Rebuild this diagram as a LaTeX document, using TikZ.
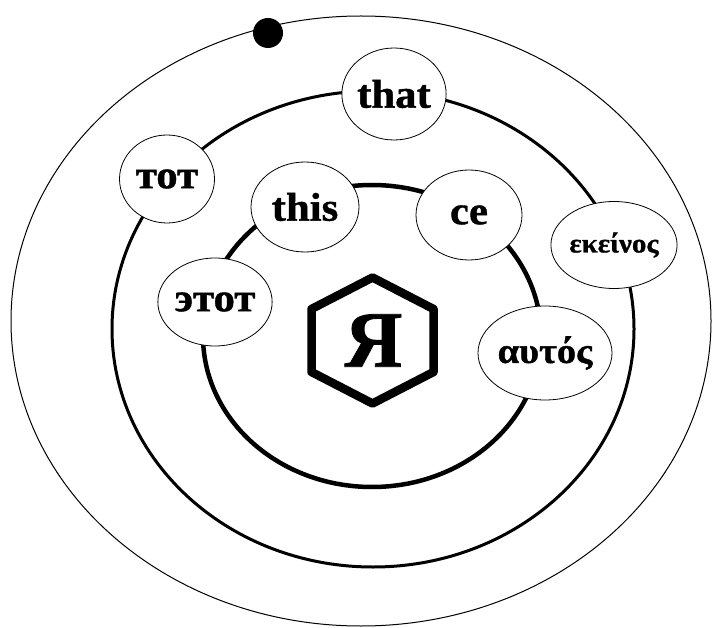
\documentclass[tikz,border=0pt]{standalone}
\usepackage{fontspec}
\setmainfont[FakeStretch=1.07, BoldFeatures={FakeBold=1}]{Liberation Serif}
\newfontfamily\centrefont[BoldFeatures={FakeBold=1}]{Liberation Serif}
\usetikzlibrary{positioning,shapes.geometric,calc}
\tikzset{
    orbit/.style={draw, line width=#1},
    word/.style={
        draw,
        ellipse,
        fill=white,
        line width=0.8pt,
        inner sep=0pt,
        font=\bfseries\fontsize{40}{42}\selectfont
    },
    smallword/.style={
        word,
        font=\bfseries\fontsize{27}{30}\selectfont
    },
    planet/.style={circle, fill=black, inner sep=0pt, minimum size=30pt}
}

\begin{document}
\begin{tikzpicture}[x=1pt, y=-1pt]
        \useasboundingbox (0,0) rectangle (712,628);
        % orbits
        \draw[orbit=1pt] (361,321) ellipse [x radius=350, y radius=305];
        \draw[orbit=3pt] (373,329) ellipse [x radius=261, y radius=238];
        \draw[orbit=4.5pt] (372,336) ellipse [x radius=169, y radius=151];
        \node[planet] (dot) at (268,33) {};

        % words
        \node[word, minimum width=96pt, minimum height=92pt] (that) at (394,94) {that};
        \node[word, minimum width=95pt, minimum height=88pt] (tot) at (167,179) {тот};
        \node[word, minimum width=108pt, minimum height=90pt] (this) at (305,207) {this};
        \node[word, minimum width=106pt, minimum height=90pt] (ce) at (469,215) {ce};
        \node[smallword, minimum width=97pt, minimum height=87pt] (ekeinos) at (614,245) {εκείνος};
        \node[word, minimum width=97pt, minimum height=88pt] (etot) at (215,302) {этот};
        \node[word, font=\bfseries\fontsize{36}{38}\selectfont, minimum width=106pt, minimum height=94pt] (autos) at (545,353) {αυτός};

        % centre
        \coordinate (hex) at (372.5,340.5);
        \draw[line width=8.5pt, line join=round]
            ($(hex)+(0,-63)$) -- ($(hex)+(61,-31.5)$) -- ($(hex)+(61,31.5)$) --
            ($(hex)+(0,63)$) -- ($(hex)+(-61,31.5)$) -- ($(hex)+(-61,-31.5)$) -- cycle;
        \node[font=\centrefont\bfseries\fontsize{80}{82}\selectfont] (ya) at ($(hex)+(1,0)$) {Я};
    \end{tikzpicture}
\end{document}
